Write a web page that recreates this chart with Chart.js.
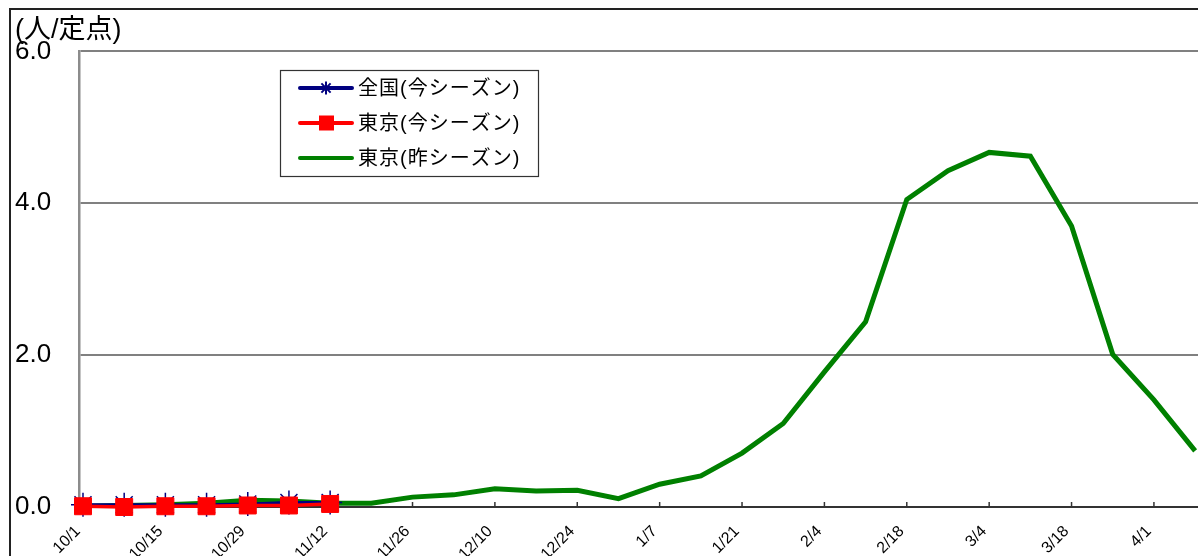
<!DOCTYPE html>
<html>
<head>
<meta charset="utf-8">
<script src="https://cdn.jsdelivr.net/npm/chart.js@4.4.1/dist/chart.umd.min.js"></script>
<style>
  html, body { margin: 0; padding: 0; background: #fff; overflow: hidden; }
  #wrap { position: relative; width: 1198px; height: 556px; }
</style>
</head>
<body>
<div id="wrap"><canvas id="flu"></canvas></div>
<script>
// weekly reporting dates (Oct - Apr)
const weeks = ['10/1', '10/8', '10/15', '10/22', '10/29', '11/5', '11/12', '11/19', '11/26', '12/3',
    '12/10', '12/17', '12/24', '12/31', '1/7', '1/14', '1/21', '1/28', '2/4', '2/11',
    '2/18', '2/25', '3/4', '3/11', '3/18', '3/25', '4/1', '4/8'];

const nationalNow = [0.03, 0.03, 0.03, 0.03, 0.04, 0.06, 0.06];
const tokyoNow = [0.01, 0.00, 0.01, 0.01, 0.02, 0.02, 0.04];
const tokyoLast = [0.01, 0.02, 0.03, 0.05, 0.09, 0.08, 0.05, 0.05, 0.13, 0.16,
    0.24, 0.21, 0.22, 0.11, 0.30, 0.41, 0.71, 1.10, 1.78, 2.44,
    4.05, 4.43, 4.67, 4.62, 3.70, 2.01, 1.41, 0.74];

const yTicks = [0, 2, 4, 6];
const seriesNames = ['全国(今シーズン)', '東京(今シーズン)', '東京(昨シーズン)'];

const FONT = "'Liberation Sans', 'Noto Sans CJK JP', Arial, sans-serif";

function pts(arr) {
    return arr.map((v, i) => ({ x: i, y: v }));
}

// outer frame, inward tick marks and the boxed legend
const extras = {
    id: 'extras',
    beforeDraw(chart) {
        const ctx = chart.ctx;
        ctx.save();
        ctx.strokeStyle = '#222';
        ctx.lineWidth = 2;
        ctx.beginPath();
        ctx.moveTo(10, 556);
        ctx.lineTo(10, 9);
        ctx.lineTo(1198, 9);
        ctx.stroke();
        ctx.restore();
    },
    beforeDatasetsDraw(chart) {
        const ctx = chart.ctx;
        const xs = chart.scales.x;
        const bottom = chart.chartArea.bottom;
        ctx.save();
        ctx.strokeStyle = '#333';
        ctx.lineWidth = 1.5;
        xs.ticks.forEach(t => {
            const px = xs.getPixelForValue(t.value);
            ctx.beginPath();
            ctx.moveTo(px, bottom);
            ctx.lineTo(px, bottom - 5);
            ctx.stroke();
        });
        ctx.restore();
    },
    afterDatasetsDraw(chart) {
        const ctx = chart.ctx;
        ctx.save();
        ctx.fillStyle = '#fff';
        ctx.fillRect(280, 70, 259, 107);
        ctx.strokeStyle = '#333';
        ctx.lineWidth = 1.2;
        ctx.strokeRect(280.5, 70.5, 258, 106);

        const rows = [88, 123, 158];
        chart.data.datasets.forEach((ds) => {
            const y = rows[ds.legendRow];
            ctx.strokeStyle = ds.borderColor;
            ctx.lineWidth = 4;
            ctx.lineCap = 'round';
            ctx.beginPath();
            ctx.moveTo(300, y);
            ctx.lineTo(352, y);
            ctx.stroke();
            if (ds.pointStyle === 'rect') {
                ctx.fillStyle = ds.backgroundColor;
                ctx.fillRect(319, y - 7.5, 15, 15);
            } else if (ds.pointStyle === 'star') {
                ctx.lineWidth = 2;
                ctx.lineCap = 'butt';
                const r = 6.5, d = r * Math.SQRT1_2;
                ctx.beginPath();
                ctx.moveTo(326, y - r); ctx.lineTo(326, y + r);
                ctx.moveTo(326 - r, y); ctx.lineTo(326 + r, y);
                ctx.moveTo(326 - d, y - d); ctx.lineTo(326 + d, y + d);
                ctx.moveTo(326 - d, y + d); ctx.lineTo(326 + d, y - d);
                ctx.stroke();
            }
            ctx.fillStyle = '#000';
            ctx.font = '20px ' + FONT;
            ctx.letterSpacing = '1px';
            ctx.textBaseline = 'middle';
            ctx.textAlign = 'left';
            ctx.fillText(ds.label, 358, y + 1);
            ctx.letterSpacing = '0px';
        });
        ctx.restore();
    }
};

const chart = new Chart(document.getElementById('flu'), {
    type: 'line',
    data: {
        datasets: [{
            label: seriesNames[2],
            legendRow: 2,
            data: pts(tokyoLast),
            borderColor: '#008000',
            borderWidth: 5,
            pointRadius: 0,
            order: 2
        },
        {
            label: seriesNames[0],
            legendRow: 0,
            data: pts(nationalNow),
            borderColor: '#000080',
            backgroundColor: '#000080',
            borderWidth: 3,
            pointStyle: 'star',
            pointRadius: 12,
            pointBorderWidth: 1.5,
            clip: false,
            order: 1
        },
        {
            label: seriesNames[1],
            legendRow: 1,
            data: pts(tokyoNow),
            borderColor: '#ff0000',
            backgroundColor: '#ff0000',
            borderWidth: 3.5,
            pointStyle: 'rect',
            pointRadius: 12,
            pointBorderWidth: 1,
            clip: false,
            order: 0
        }]
    },
    plugins: [extras],
    options: {
        responsive: true,
        maintainAspectRatio: false,
        animation: false,
        layout: {
            autoPadding: false,
            padding: { left: 15, right: 0, top: 0, bottom: 0 }
        },
        elements: {
            line: { tension: 0 }
        },
        scales: {
            x: {
                type: 'linear',
                min: -0.097,
                max: 27.07,
                afterBuildTicks: (scale) => {
                    scale.ticks = weeks.map((w, i) => ({ value: i })).filter(t => t.value % 2 === 0);
                },
                afterFit: (scale) => {
                    scale.height = 49;
                    scale.paddingLeft = 0;
                    scale.paddingRight = 0;
                },
                grid: { drawOnChartArea: false, drawTicks: false },
                border: { color: '#333', width: 2 },
                ticks: {
                    autoSkip: false,
                    minRotation: 45,
                    maxRotation: 45,
                    padding: 15,
                    labelOffset: -5,
                    color: '#000',
                    font: { family: FONT, size: 16 },
                    callback: (v) => weeks[v]
                }
            },
            y: {
                min: 0,
                max: 6,
                afterBuildTicks: (scale) => {
                    scale.ticks = yTicks.map(v => ({ value: v }));
                },
                afterFit: (scale) => { scale.width = 64; },
                grid: {
                    drawTicks: false,
                    lineWidth: 2,
                    color: (c) => c.tick && c.tick.value === 0 ? 'rgba(0,0,0,0)' : '#808080'
                },
                border: { color: '#8c8c8c', width: 2.5 },
                ticks: {
                    crossAlign: 'far',
                    padding: 0,
                    color: '#000',
                    font: { family: FONT, size: 26 },
                    callback: (v) => v.toFixed(1)
                }
            }
        },
        plugins: {
            legend: { display: false },
            tooltip: { enabled: false },
            title: {
                display: true,
                text: '(人/定点)',
                align: 'start',
                color: '#000',
                font: { family: FONT, size: 27, weight: 'normal' },
                padding: { top: 14, bottom: 5 }
            }
        }
    }
});
</script>
</body>
</html>
